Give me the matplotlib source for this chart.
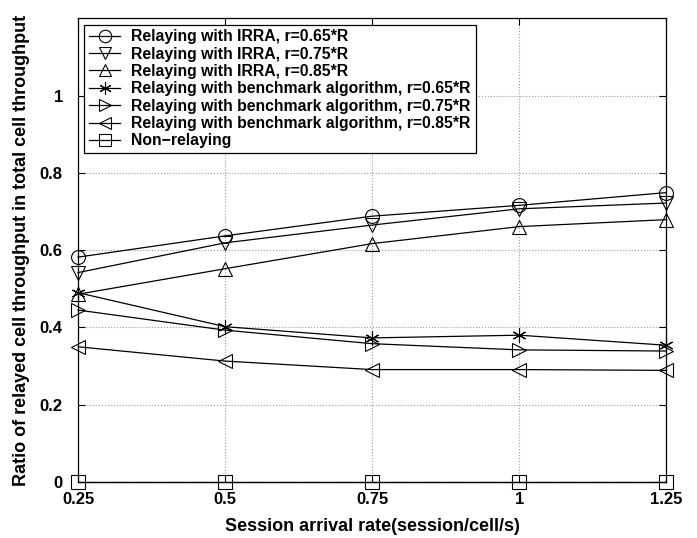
import matplotlib
matplotlib.use('Agg')
import matplotlib.pyplot as plt

plt.rcParams['font.family'] = ['Liberation Sans', 'DejaVu Sans']
plt.rcParams['font.weight'] = 'bold'

# data
rates = [0.25, 0.5, 0.75, 1.0, 1.25]
irra_065 = [0.582, 0.637, 0.688, 0.716, 0.749]
irra_075 = [0.542, 0.619, 0.665, 0.707, 0.722]
irra_085 = [0.486, 0.552, 0.617, 0.661, 0.679]
bench_065 = [0.490, 0.402, 0.373, 0.380, 0.354]
bench_075 = [0.445, 0.393, 0.358, 0.342, 0.339]
bench_085 = [0.350, 0.313, 0.291, 0.291, 0.289]
non_relay = [0, 0, 0, 0, 0]

series = [
    (irra_065, 'o', 'Relaying with IRRA, r=0.65*R'),
    (irra_075, 'v', 'Relaying with IRRA, r=0.75*R'),
    (irra_085, '^', 'Relaying with IRRA, r=0.85*R'),
    (bench_065, (6, 2, 0), 'Relaying with benchmark algorithm, r=0.65*R'),
    (bench_075, '>', 'Relaying with benchmark algorithm, r=0.75*R'),
    (bench_085, '<', 'Relaying with benchmark algorithm, r=0.85*R'),
    (non_relay, 's', 'Non\u2212relaying'),
]

fig = plt.figure(figsize=(6.97, 5.38), dpi=100)
ax = fig.add_axes([0.112, 0.104, 0.844, 0.862])

for vals, mk, lab in series:
    ax.plot(rates, vals, color='black', lw=0.9, marker=mk, markersize=10,
            markerfacecolor='none', markeredgecolor='black', markeredgewidth=0.8,
            label=lab, clip_on=False)

ax.set_xlim(0.25, 1.25)
ax.set_ylim(0, 1.2)
ax.set_xticks(rates)
ax.set_xticklabels(['0.25', '0.5', '0.75', '1', '1.25'])
ax.set_yticks([0, 0.2, 0.4, 0.6, 0.8, 1.0])
ax.set_yticklabels(['0', '0.2', '0.4', '0.6', '0.8', '1'])
ax.tick_params(direction='in', top=True, right=True, length=5, labelsize=12)
ax.tick_params(axis='x', pad=7)
ax.tick_params(axis='y', pad=11)
ax.grid(True, linestyle=':', color='#999999', linewidth=0.8)
for sp in ax.spines.values():
    sp.set_linewidth(0.9)

ax.set_xlabel('Session arrival rate(session/cell/s)', fontsize=13,
              fontweight='bold', labelpad=8)
ax.set_ylabel('Ratio of relayed cell throughput in total cell throughput',
              fontsize=13, fontweight='bold', labelpad=7)

leg = ax.legend(loc='upper left', fontsize=11.3, frameon=True, fancybox=False,
                edgecolor='black', framealpha=1, handlelength=2.0,
                borderaxespad=0.4, labelspacing=0.15, borderpad=0.3,
                handletextpad=0.7)
leg.get_frame().set_linewidth(0.9)
for h in leg.legend_handles:
    h.set_markersize(9)

fig.savefig('out.png', dpi=100)
